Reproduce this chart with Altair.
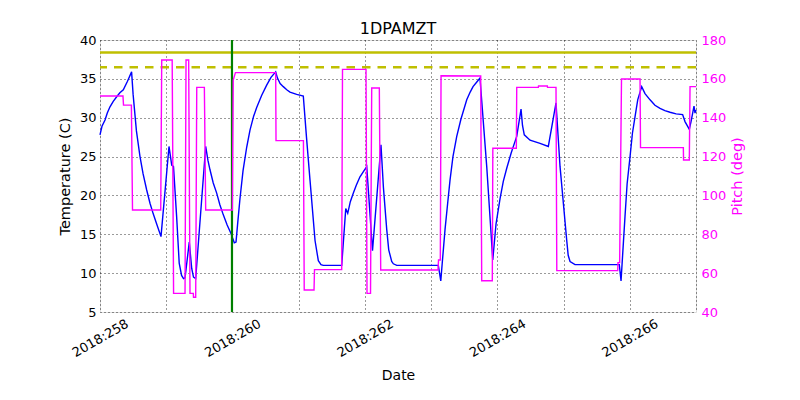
import altair as alt
import pandas as pd

# ---- data (day of year 2018, decimal) ----
temp_day = [258.000, 258.030, 258.076, 258.110, 258.151, 258.200, 258.252, 258.300, 258.352, 258.415,
            258.477, 258.500, 258.550, 258.604, 258.650, 258.705, 258.755, 258.805, 258.861, 258.921,
            259.042, 259.083, 259.110, 259.157, 259.196, 259.232, 259.261, 259.284, 259.348, 259.385,
            259.412, 259.445, 259.596, 259.630, 259.661, 259.710, 259.762, 259.810, 259.862, 259.920,
            259.978, 260.028, 260.054, 260.080, 260.114, 260.160, 260.215, 260.265, 260.320, 260.366,
            260.442, 260.517, 260.582, 260.653, 260.680, 260.720, 260.768, 260.820, 260.869, 260.970,
            261.070, 261.118, 261.171, 261.247, 261.297, 261.337, 261.372, 261.650, 261.711, 261.741,
            261.780, 261.826, 261.870, 261.926, 261.980, 262.028, 262.115, 262.243, 262.280, 262.330,
            262.360, 262.405, 262.430, 262.481, 263.109, 263.146, 263.170, 263.210, 263.250, 263.286,
            263.330, 263.387, 263.450, 263.538, 263.590, 263.633, 263.690, 263.738, 263.840, 263.931,
            263.980, 264.041, 264.090, 264.142, 264.210, 264.293, 264.358, 264.380, 264.407, 264.494,
            264.645, 264.770, 264.886, 264.947, 265.048, 265.070, 265.098, 265.173, 265.842, 265.868,
            265.928, 265.960, 266.004, 266.040, 266.079, 266.120, 266.180, 266.230, 266.306, 266.380,
            266.457, 266.530, 266.608, 266.700, 266.798, 266.834, 266.899, 266.925, 266.970, 266.985,
            267.000]
temp_val = [27.8, 28.9, 29.7, 30.6, 31.4, 32.1, 32.7, 33.2, 33.6, 34.7,
            35.9, 33.0, 28.3, 25.0, 22.8, 20.7, 19.0, 17.6, 16.2, 14.7,
            26.3, 23.9, 23.7, 17.3, 11.3, 9.7, 9.3, 9.4, 14.0, 10.6,
            9.5, 9.3, 26.3, 24.5, 23.3, 21.6, 20.3, 18.8, 17.5, 16.2,
            15.1, 13.9, 14.0, 16.5, 19.6, 23.2, 26.2, 28.4, 30.2, 31.3,
            32.9, 34.2, 35.2, 35.9, 35.1, 34.4, 34.0, 33.6, 33.3, 33.0,
            32.8, 27.5, 22.0, 14.2, 11.6, 11.1, 11.0, 11.0, 18.3, 17.7,
            19.2, 20.3, 21.3, 22.4, 23.1, 23.7, 12.9, 26.5, 21.0, 15.6,
            13.0, 11.5, 11.2, 11.0, 11.0, 9.0, 11.5, 15.6, 19.0, 22.0,
            25.0, 27.6, 29.8, 32.3, 33.3, 34.0, 34.6, 35.1, 23.7, 11.7,
            16.3, 19.6, 21.8, 23.5, 25.5, 27.6, 31.1, 29.0, 27.8, 27.1,
            26.7, 26.3, 31.9, 23.7, 14.2, 12.3, 11.5, 11.1, 11.1, 9.0,
            17.3, 21.5, 25.0, 28.0, 30.1, 32.3, 34.0, 33.1, 32.3, 31.6,
            31.2, 30.9, 30.7, 30.5, 30.4, 29.5, 28.5, 29.5, 31.5, 30.6,
            31.0]

pitch_day = [258.000, 258.347, 258.355, 258.474, 258.491, 258.917, 258.932, 259.090, 259.111, 259.284,
             259.299, 259.339, 259.359, 259.409, 259.412, 259.445, 259.461, 259.576, 259.596, 259.999,
             260.012, 260.045, 260.653, 260.658, 261.072, 261.084, 261.232, 261.239, 261.650, 261.662,
             262.017, 262.032, 262.085, 262.103, 262.218, 262.239, 263.104, 263.112, 263.139, 263.150,
             263.749, 263.764, 263.924, 263.932, 264.287, 264.293, 264.619, 264.622, 264.755, 264.758,
             264.886, 264.898, 265.818, 265.822, 265.847, 265.875, 266.155, 266.162, 266.809, 266.812,
             266.899, 266.910, 267.000]
pitch_val = [151.2, 151.2, 146.5, 146.5, 92.5, 92.5, 169.7, 169.7, 49.6, 49.6,
             169.7, 169.7, 49.6, 49.6, 47.6, 47.6, 155.6, 155.6, 92.5, 92.5,
             159.4, 163.2, 163.2, 128.2, 128.2, 51.3, 51.3, 61.8, 61.8, 164.9,
             164.9, 49.6, 49.6, 155.3, 155.3, 61.6, 61.6, 66.8, 66.8, 161.6,
             161.5, 56.1, 56.1, 124.3, 124.3, 155.6, 155.6, 156.3, 156.3, 155.6,
             155.6, 61.3, 61.3, 65.4, 65.4, 159.9, 159.9, 124.6, 124.6, 118.2,
             118.2, 156.0, 156.0]

limit_solid = 38.4
limit_dashed = 36.5
marker_day = 259.993

x_ticks = [258, 259, 260, 261, 262, 263, 264, 265, 266, 267]
temp_ticks = [5, 10, 15, 20, 25, 30, 35, 40]
pitch_ticks = [40, 60, 80, 100, 120, 140, 160, 180]

FONT = "DejaVu Sans"

temp_df = pd.DataFrame({"day": temp_day, "temp": temp_val, "i": range(len(temp_day))})
pitch_df = pd.DataFrame({"day": pitch_day, "pitch": pitch_val, "i": range(len(pitch_day))})

xscale = alt.Scale(domain=[258, 267], nice=False, zero=False)
tscale = alt.Scale(domain=[5, 40], nice=False, zero=False)
pscale = alt.Scale(domain=[40, 180], nice=False, zero=False)

x_axis = alt.Axis(
    values=x_ticks,
    labelExpr="datum.value % 2 == 0 ? '2018:' + datum.value : ''",
    labelAngle=-30, labelAlign="center", labelBaseline="middle",
    labelPadding=26, labelOverlap=False, labelFlush=False,
    labelFontSize=13, labelColor="black", labelFont=FONT,
    grid=True, gridDash=[1, 3], gridColor="black", gridOpacity=1, gridWidth=0.8,
    ticks=False, domain=False,
    title="Date", titleFontSize=14, titleFontWeight="normal", titleFont=FONT,
    titleColor="black", titlePadding=9,
)

temp_line = alt.Chart(temp_df).mark_line(color="#0000ff", strokeWidth=1.4).encode(
    x=alt.X("day:Q", scale=xscale, axis=x_axis),
    y=alt.Y("temp:Q", scale=tscale, axis=alt.Axis(
        values=temp_ticks, grid=True, gridDash=[1, 3], gridColor="black", gridOpacity=1, gridWidth=0.8,
        ticks=False, domain=False, labelFontSize=13, labelColor="black", labelFont=FONT, labelPadding=4,
        title="Temperature (C)", titleFontSize=14.5, titleFontWeight="normal", titleFont=FONT,
        titleColor="black", titlePadding=7, orient="left")),
    order="i:Q",
)

solid_df = pd.DataFrame({"v": [limit_solid]})
dashed_df = pd.DataFrame({"v": [limit_dashed]})
marker_df = pd.DataFrame({"d": [marker_day]})

solid_rule = alt.Chart(solid_df).mark_rule(color="#bfbf00", strokeWidth=2.6).encode(
    y=alt.Y("v:Q", scale=tscale, axis=None)
)
dashed_rule = alt.Chart(dashed_df).mark_rule(color="#bfbf00", strokeWidth=2.6, strokeDash=[8.5, 7]).encode(
    y=alt.Y("v:Q", scale=tscale, axis=None)
)
green_rule = alt.Chart(marker_df).mark_rule(color="#008000", strokeWidth=2.2).encode(
    x=alt.X("d:Q", scale=xscale)
)

pitch_line = alt.Chart(pitch_df).mark_line(color="#ff00ff", strokeWidth=1.4).encode(
    x=alt.X("day:Q", scale=xscale),
    y=alt.Y("pitch:Q", scale=pscale, axis=alt.Axis(
        values=pitch_ticks, grid=False, ticks=False, domain=False,
        labelFontSize=13, labelColor="#ff00ff", labelFont=FONT, labelPadding=5,
        title="Pitch (deg)", titleFontSize=14.5, titleFontWeight="normal", titleFont=FONT,
        titleColor="#ff00ff", titlePadding=5, titleAngle=270, titleBaseline="top", orient="right")),
    order="i:Q",
)

chart = alt.layer(
    temp_line, solid_rule, dashed_rule, green_rule, pitch_line
).resolve_scale(
    y="independent"
).properties(
    width=596, height=272,
    title=alt.TitleParams("1DPAMZT", fontSize=16, fontWeight="normal", font=FONT, color="black",
                          anchor="middle", offset=-3),
    autosize=alt.AutoSizeParams(type="none"),
    padding={"left": 100, "top": 40, "right": 104, "bottom": 88},
).configure_view(
    stroke="black", strokeWidth=1.5
).configure(
    background="white"
)

chart.save("out.html", embed_options={"renderer": "svg", "actions": False})
